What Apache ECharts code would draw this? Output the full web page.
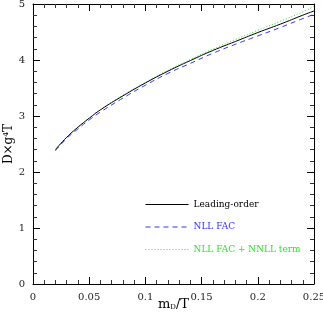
<!DOCTYPE html>
<html>
<head>
<meta charset="utf-8">
<script src="https://cdn.jsdelivr.net/npm/echarts@6/dist/echarts.min.js"></script>
<style>html,body{margin:0;padding:0;background:#fff}#c{width:323px;height:319px}</style>
</head>
<body>
<div id="c"></div>
<script>
const xValues   = [0.02, 0.03, 0.04, 0.05, 0.06, 0.08, 0.10, 0.12, 0.14, 0.16, 0.18, 0.20, 0.22, 0.24, 0.25];
const loValues  = [2.40, 2.62, 2.80, 2.96, 3.11, 3.36, 3.59, 3.80, 3.99, 4.17, 4.33, 4.49, 4.64, 4.80, 4.875];
const nllValues = [2.38, 2.60, 2.77, 2.93, 3.07, 3.32, 3.55, 3.76, 3.94, 4.12, 4.28, 4.43, 4.58, 4.74, 4.815];
const nnllValues= [2.40, 2.62, 2.80, 2.965, 3.115, 3.37, 3.60, 3.815, 4.01, 4.195, 4.365, 4.53, 4.69, 4.86, 4.955];
const seriesNames = ['Leading-order', 'NLL FAC', 'NLL FAC + NNLL term'];
const xTickLabels = ['0', '0.05', '0.1', '0.15', '0.2', '0.25'];

const FONT = 'DejaVu Serif';
const pair = (xs, ys) => xs.map((x, i) => [x, ys[i]]);
const tickCommon = () => ({
  axisLine: {show: true, onZero: false, lineStyle: {color: '#000', width: 1}},
  axisTick: {show: true, inside: true, length: 7, lineStyle: {color: '#000', width: 1}},
  minorTick: {show: true, inside: true, splitNumber: 5, length: 4, lineStyle: {color: '#333', width: 1}},
  splitLine: {show: false},
  minorSplitLine: {show: false}
});
const chart = echarts.init(document.getElementById('c'), null, {renderer: 'canvas'});
chart.setOption({
  animation: false,
  backgroundColor: '#fff',
  grid: {left: 33, right: 9, top: 4, bottom: 35, containLabel: false, outerBoundsMode: 'none'},
  legend: {
    orient: 'vertical', left: 145, top: 200, padding: 0, itemWidth: 43, itemHeight: 10, itemGap: 13.5,
    itemStyle: {opacity: 0},
    lineStyle: {width: 1},
    textStyle: {fontFamily: FONT, fontSize: 9},
    data: [
      {name: seriesNames[0], textStyle: {color: '#000'}},
      {name: seriesNames[1], textStyle: {color: '#3333ff'}},
      {name: seriesNames[2], textStyle: {color: '#22ee22'}}
    ]
  },
  xAxis: [
    Object.assign(tickCommon(), {
      type: 'value', min: 0, max: 0.25, interval: 0.05, position: 'bottom',
      axisLabel: {fontFamily: FONT, fontSize: 10, color: '#222', margin: 8,
        formatter: v => xTickLabels[Math.round(v / 0.05)]},
      name: '{m|m}{s|D}{m|/T}', nameLocation: 'middle', nameGap: 14, nameMoveOverlap: false,
      nameTextStyle: {fontFamily: FONT, fontSize: 13, color: '#000', verticalAlign: 'top',
        rich: {m: {fontFamily: FONT, fontSize: 13, color: '#000'},
               s: {fontFamily: FONT, fontSize: 7, color: '#000', verticalAlign: 'bottom', padding: [6, 0, 0, 0]}}}
    }),
    Object.assign(tickCommon(), {
      type: 'value', min: 0, max: 0.25, interval: 0.05, position: 'top',
      axisLabel: {show: false}
    })
  ],
  yAxis: [
    Object.assign(tickCommon(), {
      type: 'value', min: 0, max: 5, interval: 1, position: 'left',
      axisLabel: {fontFamily: FONT, fontSize: 10, color: '#222', margin: 8},
      name: 'D×g⁴T', nameLocation: 'middle', nameGap: 18, nameRotate: 90, nameMoveOverlap: false,
      nameTextStyle: {fontFamily: FONT, fontSize: 12, color: '#000'}
    }),
    Object.assign(tickCommon(), {
      type: 'value', min: 0, max: 5, interval: 1, position: 'right',
      axisLabel: {show: false}
    })
  ],
  series: [
    {name: seriesNames[0], type: 'line', smooth: true, symbol: 'none', data: pair(xValues, loValues),
     lineStyle: {color: '#000', width: 1, type: 'solid'}, itemStyle: {color: '#000'}, z: 3},
    {name: seriesNames[1], type: 'line', smooth: true, symbol: 'none', data: pair(xValues, nllValues),
     lineStyle: {color: '#3333ff', width: 1, type: [5, 4]}, itemStyle: {color: '#3333ff'}, z: 2},
    {name: seriesNames[2], type: 'line', smooth: true, symbol: 'none', data: pair(xValues, nnllValues),
     lineStyle: {color: '#22ee22', width: 1, type: [1, 2]}, itemStyle: {color: '#22ee22'}, z: 2}
  ]
});
</script>
</body>
</html>
